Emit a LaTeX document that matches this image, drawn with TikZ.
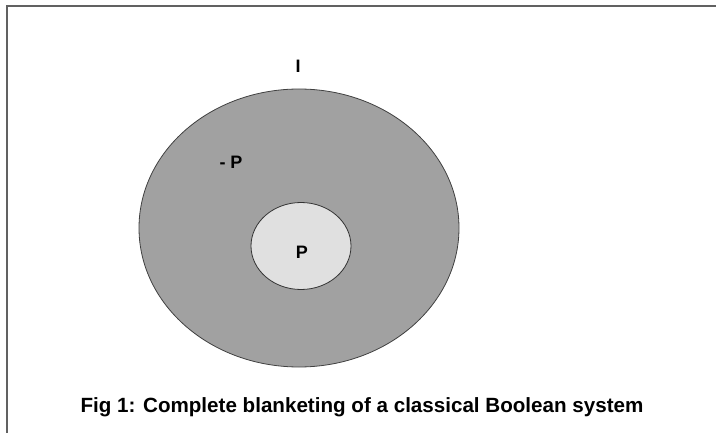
\documentclass[tikz,border=0pt]{standalone}
\usepackage{fontspec}
\setmainfont{Liberation Sans}
\usetikzlibrary{shapes.geometric}
\begin{document}
\begin{tikzpicture}[x=1pt,y=-1pt,
  lbl/.style={font=\bfseries\fontsize{18}{20}\selectfont, inner sep=0pt},
  frameline/.style={draw=black!62, line width=2pt}]
\useasboundingbox (0,0) rectangle (716,433);
\coordinate (tr) at (716,6);
\coordinate (tl) at (7,6);
\coordinate (bl) at (7,433);
\draw[frameline] (tr) -- (tl) -- (bl);
\node[ellipse, draw=black!75, fill=black!37, line width=0.8pt, minimum width=320pt, minimum height=278pt, inner sep=0pt] (outer) at (299,228) {};
\node[ellipse, draw=black!80, fill=black!12, line width=0.8pt, minimum width=100pt, minimum height=87pt, inner sep=0pt] (inner) at (301,246) {};
\node[lbl] (I) at (298,66) {I};
\node[lbl] (negP) at (231,162) {- P};
\node[lbl] (P) at (302,252) {P};
\node[font=\bfseries\fontsize{20.6}{24}\selectfont, inner sep=0pt] (cap) at (362,407) {Fig 1: Complete blanketing of a classical Boolean system};
\end{tikzpicture}
\end{document}
